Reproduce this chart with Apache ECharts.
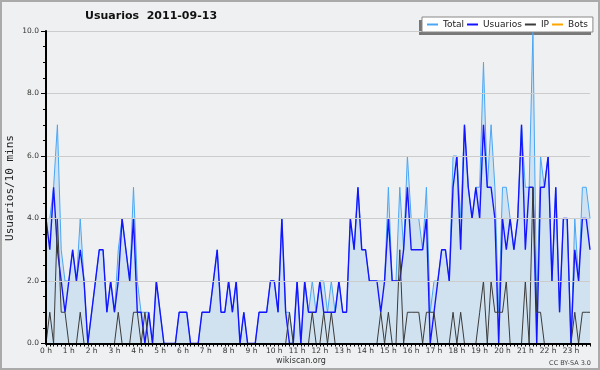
<!DOCTYPE html>
<html><head><meta charset="utf-8">
<script src="https://cdn.jsdelivr.net/npm/echarts@6/dist/echarts.min.js"></script>
<style>html,body{margin:0;padding:0;background:#eff0f1;}#c{width:600px;height:370px;}</style>
</head><body><div id="c"></div>
<script>
var hourLabels = ['0 h','1 h','2 h','3 h','4 h','5 h','6 h','7 h','8 h','9 h','10 h','11 h','12 h','13 h','14 h','15 h','16 h','17 h','18 h','19 h','20 h','21 h','22 h','23 h'];
var total = [4,4,5,7,3,2,2,3,2,4,2,0, 1,2,3,3,1,2,1,3,4,3,2,5, 2,1,1,1,0,2,1,0,0,0,0,1, 1,1,0,0,0,1,1,1,2,3,1,1,
  2,1,2,0,1,0,0,0,1,1,1,2, 2,1,4,1,1,0,2,0,2,1,2,1, 2,2,1,2,1,2,1,1,4,3,5,3, 3,2,2,2,2,2,5,2,2,5,3,6,
  4,4,4,3,5,1,2,2,3,3,2,6, 6,4,7,5,4,5,5,9,5,7,5,1, 5,5,4,3,4,7,5,5,10,1,6,5, 6,2,5,1,4,4,0,4,2,5,5,4];
var usuarios = [4,3,5,3,2,1,2,3,2,3,2,0, 1,2,3,3,1,2,1,2,4,3,2,4, 1,1,0,1,0,2,1,0,0,0,0,1, 1,1,0,0,0,1,1,1,2,3,1,1,
  2,1,2,0,1,0,0,0,1,1,1,2, 2,1,4,1,0,0,2,0,2,1,1,1, 2,1,1,1,1,2,1,1,4,3,5,3, 3,2,2,2,1,2,4,2,2,2,3,5,
  3,3,3,3,4,0,1,2,3,3,2,5, 6,3,7,5,4,5,4,7,5,5,4,0, 4,3,4,3,4,7,3,5,5,0,5,5, 6,2,5,1,4,4,0,3,2,4,4,3];
var ip = [0,1,0,4,1,1,0,0,0,1,0,0, 0,0,0,0,0,0,0,1,0,0,0,1, 1,0,1,0,0,0,0,0,0,0,0,0, 0,0,0,0,0,0,0,0,0,0,0,0,
  0,0,0,0,0,0,0,0,0,0,0,0, 0,0,0,0,1,0,0,0,0,0,1,0, 0,1,0,1,0,0,0,0,0,0,0,0, 0,0,0,0,1,0,1,0,0,3,0,1,
  1,1,1,0,1,1,1,0,0,0,0,1, 0,1,0,0,0,0,1,2,0,2,1,1, 1,2,0,0,0,0,2,0,5,1,1,0, 0,0,0,0,0,0,0,1,0,1,1,1];
var bots = [0,0,0,0,0,0,0,0,0,0,0,0, 0,0,0,0,0,0,0,0,0,0,0,0, 0,0,0,0,0,0,0,0,0,0,0,0, 0,0,0,0,0,0,0,0,0,0,0,0,
  0,0,0,0,0,0,0,0,0,0,0,0, 0,0,0,0,0,0,0,0,0,0,0,0, 0,0,0,0,0,0,0,0,0,0,0,0, 0,0,0,0,0,0,0,0,0,0,0,0,
  0,0,0,0,0,0,0,0,0,0,0,0, 0,0,0,0,0,0,0,0,0,0,0,0, 0,0,0,0,0,0,0,0,0,0,0,0, 0,0,0,0,0,0,0,0,0,0,0,0];

var cats = [];
for (var i = 0; i < total.length; i++) cats.push(i % 6 === 0 ? hourLabels[i / 6] : '');

var chart = echarts.init(document.getElementById('c'), null, {renderer: 'canvas'});
var F = 'DejaVu Sans';
chart.setOption({
  backgroundColor: '#eff0f1',
  animation: false,
  title: {
    text: 'Usuarios  2011-09-13', left: 85, top: 11, padding: 0,
    textStyle: {fontFamily: F, fontSize: 11, fontWeight: 'bold', color: '#111'}
  },
  legend: {
    left: 422, top: 17, z: 10,
    backgroundColor: '#fff', borderColor: '#888', borderWidth: 1,
    padding: [2, 5, 2, 5], itemGap: 3, itemWidth: 11, itemHeight: 2, icon: 'rect',
    textStyle: {fontFamily: F, fontSize: 9, color: '#222', lineHeight: 11},
    data: ['Total', 'Usuarios', 'IP', 'Bots']
  },
  graphic: [
    {type: 'rect', z: 1, shape: {x: 419, y: 20, width: 172, height: 15}, style: {fill: '#777'}},
    {type: 'rect', z: 100, shape: {x: 1, y: 1, width: 598, height: 368}, style: {fill: 'none', stroke: '#aaa', lineWidth: 2}},
    {type: 'text', z: 100, x: 10, y: 188, rotation: Math.PI / 2,
     style: {text: 'Usuarios/10 mins', x: 0, y: 0, fontFamily: 'DejaVu Sans Mono', fontSize: 11, fill: '#222', align: 'center', verticalAlign: 'middle'}},
    {type: 'text', z: 100, style: {text: 'wikiscan.org', x: 301, y: 361, fontFamily: F, fontSize: 8, fill: '#333', align: 'center', verticalAlign: 'middle'}},
    {type: 'text', z: 100, style: {text: 'CC BY-SA 3.0', x: 591, y: 363, fontFamily: F, fontSize: 6.5, fill: '#444', align: 'right', verticalAlign: 'middle'}}
  ],
  grid: {left: 46, right: 10, top: 31, bottom: 26.5, containLabel: false},
  xAxis: {
    type: 'category', data: cats, boundaryGap: false, z: 5,
    axisLine: {lineStyle: {color: '#000', width: 2}},
    axisTick: {show: true, interval: 0, length: 3, lineStyle: {color: '#000'}},
    axisLabel: {interval: 0, margin: 4, fontFamily: F, fontSize: 7.5, color: '#333', hideOverlap: false},
    splitLine: {show: false}
  },
  yAxis: {
    type: 'value', min: 0, max: 10, interval: 2, z: 5,
    axisLine: {show: true, lineStyle: {color: '#000', width: 2}},
    axisTick: {show: true, length: 5, lineStyle: {color: '#000'}},
    minorTick: {show: true, splitNumber: 4, length: 3, lineStyle: {color: '#000'}},
    axisLabel: {margin: 7, fontFamily: F, fontSize: 7.5, color: '#333', formatter: function (v) { return v.toFixed(1); }},
    splitLine: {show: true, lineStyle: {color: '#cccccc', width: 1}}
  },
  series: [
    {name: 'Total', type: 'line', data: total, symbol: 'none', z: 2,
     lineStyle: {color: '#4aa6f4', width: 1}, itemStyle: {color: '#4aa6f4'},
     areaStyle: {color: 'rgba(186,215,240,0.82)'}},
    {name: 'Usuarios', type: 'line', data: usuarios, symbol: 'none', z: 3,
     lineStyle: {color: '#1414ff', width: 1.4}, itemStyle: {color: '#1414ff'}},
    {name: 'IP', type: 'line', data: ip, symbol: 'none', z: 4,
     lineStyle: {color: '#3a3a3a', width: 1}, itemStyle: {color: '#3a3a3a'}},
    {name: 'Bots', type: 'line', data: bots, symbol: 'none', z: 1,
     lineStyle: {color: '#ffa500', width: 1}, itemStyle: {color: '#ffa500'}}
  ]
});
</script></body></html>
